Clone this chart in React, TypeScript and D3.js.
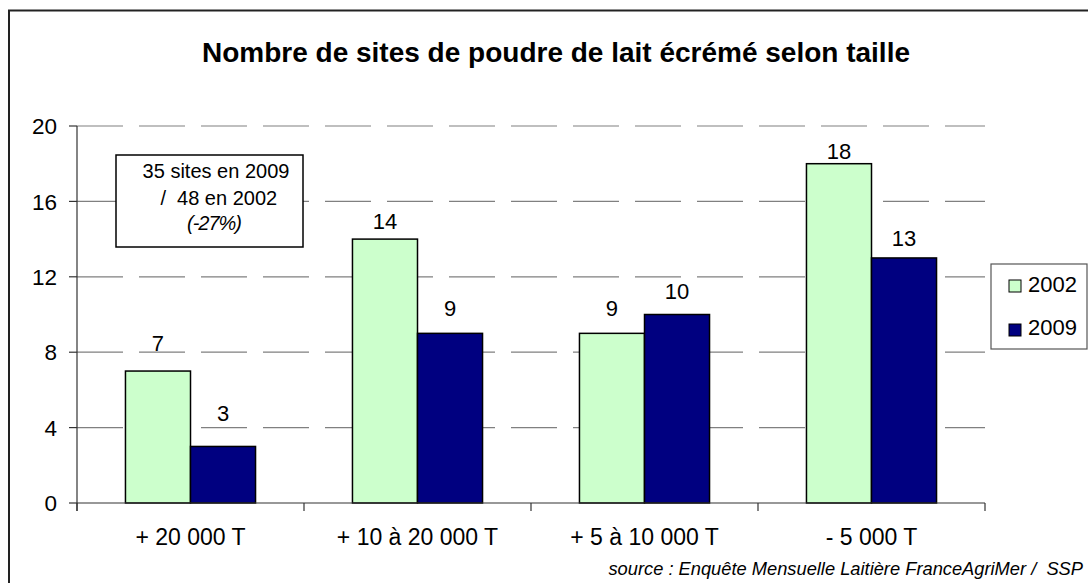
import React from "react";
import * as d3 from "d3";

const categories = ["+ 20 000 T", "+ 10 à 20 000 T", "+ 5 à 10 000 T", "- 5 000 T"];
const seriesNames = ["2002", "2009"];
const values2002 = [7, 14, 9, 18];
const values2009 = [3, 9, 10, 13];
const yTicks = [0, 4, 8, 12, 16, 20];
const titleText = "Nombre de sites de poudre de lait écrémé selon taille";
const noteLines = ["35 sites en 2009", " /  48 en 2002", "(-27%)"];
const sourceText = "source : Enquête Mensuelle Laitière FranceAgriMer /  SSP";

const colors = ["#CCFFCC", "#000080"];
const FONT = "'Liberation Sans', Arial, Helvetica, sans-serif";

export default function App() {
  const W = 1088;
  const H = 583;
  const left = 77;
  const right = 985;
  const top = 126;
  const bottom = 503;

  const x = d3.scaleBand<string>().domain(categories).range([left, right]).paddingInner(0.427).paddingOuter(0.2135);
  const xs = d3.scaleBand<string>().domain(seriesNames).range([0, x.bandwidth()]);
  const y = d3.scaleLinear().domain([0, 20]).range([bottom, top]);
  // value labels in the original are placed on a slightly compressed scale
  const yLabel = d3.scaleLinear().domain([0, 20]).range([466, 116]);
  const series = [values2002, values2009];
  const step = x.step();

  return (
    <div style={{ position: "fixed", left: 0, top: 0 }}>
      <svg width={W} height={H} style={{ display: "block", background: "#fff" }} fontFamily={FONT}>
        <rect x={9} y={10.5} width={1090} height={600} fill="#fff" stroke="#222" strokeWidth={2} />
        <text x={556} y={62} textAnchor="middle" fontSize={28} fontWeight="bold" fill="#000">
          {titleText}
        </text>
        {/* grid lines */}
        {yTicks.filter((t) => t > 0).map((t) => (
          <line key={"g" + t} x1={left} x2={right} y1={y(t)} y2={y(t)} stroke="#808080" strokeWidth={1.2} strokeDasharray="46,16" />
        ))}
        {/* bars */}
        {categories.map((c, i) =>
          seriesNames.map((s, j) => {
            const bx = (x(c) as number) + (xs(s) as number);
            const v = series[j][i];
            return (
              <g key={c + s}>
                <rect x={bx} y={y(v)} width={xs.bandwidth()} height={bottom - y(v)} fill={colors[j]} stroke="#000" strokeWidth={1.5} />
                <text x={bx + xs.bandwidth() / 2} y={yLabel(v)} dy="0.36em" textAnchor="middle" fontSize={22} fill="#000">
                  {v}
                </text>
              </g>
            );
          })
        )}
        {/* y axis */}
        <line x1={left} x2={left} y1={top} y2={bottom + 8} stroke="#333" strokeWidth={1.2} />
        {yTicks.map((t) => (
          <g key={"t" + t}>
            <line x1={left - 8} x2={left} y1={y(t)} y2={y(t)} stroke="#333" strokeWidth={1.2} />
            <text x={57} y={y(t)} dy="0.36em" textAnchor="end" fontSize={22.5} fill="#000">
              {t}
            </text>
          </g>
        ))}
        {/* x axis */}
        <line x1={left} x2={right} y1={bottom} y2={bottom} stroke="#333" strokeWidth={1.2} />
        {d3.range(categories.length + 1).map((k) => (
          <line key={"xt" + k} x1={left + k * step} x2={left + k * step} y1={bottom} y2={bottom + 8} stroke="#333" strokeWidth={1.2} />
        ))}
        {categories.map((c) => (
          <text key={"xl" + c} x={(x(c) as number) + x.bandwidth() / 2} y={545} textAnchor="middle" fontSize={23} fill="#000">
            {c}
          </text>
        ))}
        {/* note box */}
        <rect x={116} y={155} width={187} height={92} fill="#fff" stroke="#000" strokeWidth={1.5} />
        <text x={216} y={178} textAnchor="middle" fontSize={20} fill="#000">{noteLines[0]}</text>
        <text x={216} y={205} textAnchor="middle" fontSize={20} fill="#000" style={{ whiteSpace: "pre" }}>{noteLines[1]}</text>
        <text x={214} y={230} textAnchor="middle" fontSize={20} fontStyle="italic" fill="#000" letterSpacing={-1}>{noteLines[2]}</text>
        {/* legend */}
        <rect x={991} y={264} width={96} height={85} fill="#fff" stroke="#555" strokeWidth={1.2} />
        {seriesNames.map((s, j) => (
          <g key={"lg" + s}>
            <rect x={1009} y={280 + j * 44} width={12} height={12} fill={colors[j]} stroke="#000" strokeWidth={1} />
            <text x={1028} y={292 + j * 43} fontSize={22} fill="#000">{s}</text>
          </g>
        ))}
        <text x={1083} y={575} textAnchor="end" fontSize={18.3} fontStyle="italic" fill="#000" style={{ whiteSpace: "pre" }}>
          {sourceText}
        </text>
      </svg>
    </div>
  );
}
